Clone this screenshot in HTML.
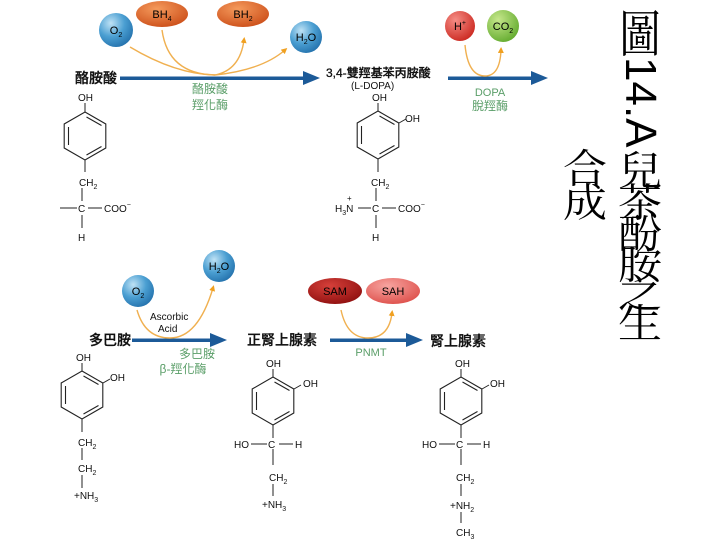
<!DOCTYPE html>
<html><head><meta charset="utf-8"><style>
body{margin:0;background:#fff;width:720px;height:540px;overflow:hidden;position:relative;font-family:"Liberation Sans","Noto Sans CJK TC",sans-serif}
.t{position:absolute;font-family:"Liberation Serif","Noto Serif CJK SC",serif;font-size:44px;line-height:1;color:#000;width:44px;text-align:center;transform-origin:center center}
</style></head><body>
<svg width="720" height="540" style="position:absolute;left:0;top:0" font-family="Liberation Sans, Noto Sans CJK TC, sans-serif">
<defs>
<radialGradient id="bl" cx="0.35" cy="0.3" r="0.8"><stop offset="0" stop-color="#bfe2f5"/><stop offset="0.5" stop-color="#4b9fd2"/><stop offset="1" stop-color="#1f6ca8"/></radialGradient>
<radialGradient id="or" cx="0.4" cy="0.3" r="0.8"><stop offset="0" stop-color="#f59a5c"/><stop offset="1" stop-color="#c94a15"/></radialGradient>
<radialGradient id="rd" cx="0.35" cy="0.3" r="0.8"><stop offset="0" stop-color="#f58d85"/><stop offset="1" stop-color="#c9231b"/></radialGradient>
<radialGradient id="gr" cx="0.35" cy="0.3" r="0.8"><stop offset="0" stop-color="#c6e78b"/><stop offset="1" stop-color="#5ea82a"/></radialGradient>
<radialGradient id="dr" cx="0.4" cy="0.3" r="0.8"><stop offset="0" stop-color="#d6403a"/><stop offset="1" stop-color="#8a0c0c"/></radialGradient>
<radialGradient id="lr" cx="0.4" cy="0.3" r="0.8"><stop offset="0" stop-color="#f7a4a0"/><stop offset="1" stop-color="#dc4a45"/></radialGradient>
<marker id="ah" markerWidth="6" markerHeight="6" refX="3" refY="3" orient="auto" markerUnits="userSpaceOnUse" viewBox="0 0 6 6"><path d="M0,0L6,3L0,6z" fill="#f0a020"/></marker>
<g id="ring" fill="none" stroke="#222" stroke-width="1.1">
<path d="M0,-24L20.8,-12L20.8,12L0,24L-20.8,12L-20.8,-12Z"/>
<path d="M1.5,-19L16.5,-10.5M16.5,10.5L1.5,19M-16.5,-9L-16.5,9"/>
</g>
</defs>

<g fill="#1c5a98">
<rect x="120" y="76.5" width="185" height="3.5"/><path d="M303,71L320,78L303,85z"/>
<rect x="448" y="76.5" width="85" height="3.5"/><path d="M531,71L548,78L531,85z"/>
<rect x="132" y="338.5" width="80" height="3.5"/><path d="M210,333L227,340L210,347z"/>
<rect x="330" y="338.5" width="78" height="3.5"/><path d="M406,333L423,340L406,347z"/>
</g>

<g fill="none" stroke="#f0b050" stroke-width="1.4">
<path d="M130,47Q175,74 215,75"/>
<path d="M162,30Q168,74 215,75"/>
<path d="M215,75Q240,70 244,40" marker-end="url(#ah)"/>
<path d="M215,75Q262,70 285,50" marker-end="url(#ah)"/>
<path d="M465,45Q468,76 485,76Q500,76 501,50" marker-end="url(#ah)"/>
<path d="M137,310Q145,338 170,338Q198,338 213,288" marker-end="url(#ah)"/>
<path d="M341,310Q347,338 368,338Q389,338 392,313" marker-end="url(#ah)"/>
</g>

<circle cx="116" cy="30" r="17" fill="url(#bl)"/><text x="116" y="34" font-size="11" text-anchor="middle">O<tspan font-size="7" dy="3">2</tspan></text>
<ellipse cx="162" cy="14" rx="26" ry="13" fill="url(#or)"/><text x="162" y="18" font-size="11" text-anchor="middle">BH<tspan font-size="7" dy="3">4</tspan></text>
<ellipse cx="243" cy="14" rx="26" ry="13" fill="url(#or)"/><text x="243" y="18" font-size="11" text-anchor="middle">BH<tspan font-size="7" dy="3">2</tspan></text>
<circle cx="306" cy="37" r="16" fill="url(#bl)"/><text x="306" y="41" font-size="11" text-anchor="middle">H<tspan font-size="7" dy="3">2</tspan><tspan dy="-3">O</tspan></text>
<circle cx="460" cy="26" r="15" fill="url(#rd)"/><text x="460" y="30" font-size="11" text-anchor="middle">H<tspan font-size="7" dy="-5">+</tspan></text>
<circle cx="503" cy="26" r="16" fill="url(#gr)"/><text x="503" y="30" font-size="11" text-anchor="middle">CO<tspan font-size="7" dy="3">2</tspan></text>
<circle cx="138" cy="291" r="16" fill="url(#bl)"/><text x="138" y="295" font-size="11" text-anchor="middle">O<tspan font-size="7" dy="3">2</tspan></text>
<circle cx="219" cy="266" r="16" fill="url(#bl)"/><text x="219" y="270" font-size="11" text-anchor="middle">H<tspan font-size="7" dy="3">2</tspan><tspan dy="-3">O</tspan></text>
<ellipse cx="335" cy="291" rx="27" ry="13" fill="url(#dr)"/><text x="335" y="295" font-size="11" text-anchor="middle">SAM</text>
<ellipse cx="393" cy="291" rx="27" ry="13" fill="url(#lr)"/><text x="393" y="295" font-size="11" text-anchor="middle">SAH</text>

<g font-size="14" fill="#111" font-weight="500" stroke="#111" stroke-width="0.3">
<text x="75" y="83">酪胺酸</text>
<text x="326" y="77" font-size="12">3,4-雙羥基苯丙胺酸</text>
<text x="89" y="345">多巴胺</text>
<text x="247" y="345">正腎上腺素</text>
<text x="430" y="346">腎上腺素</text>
</g>
<text x="351" y="89" font-size="10" fill="#111">(L-DOPA)</text>
<g font-size="12" fill="#5a9e68" text-anchor="middle">
<text x="210" y="93">酪胺酸</text><text x="210" y="109">羥化酶</text>
<text x="490" y="96" font-size="11">DOPA</text><text x="490" y="110">脫羥酶</text>
<text x="197" y="358">多巴胺</text><text x="183" y="373">β-羥化酶</text>
<text x="371" y="356" font-size="11">PNMT</text>
</g>
<text x="150" y="320" font-size="10" fill="#111">Ascorbic</text>
<text x="158" y="332" font-size="10" fill="#111">Acid</text>

<g font-size="10" fill="#111" stroke="none">
<text x="78" y="101">OH</text>
<use href="#ring" x="85" y="136"/>
<path d="M85,103V112M85,160V172M82,188V201M82,215V228M60,208H77M88,208H102" stroke="#222" stroke-width="1"/>
<text x="79" y="186">CH<tspan font-size="7" dy="3">2</tspan></text>
<text x="78" y="212">C</text>
<text x="104" y="212">COO<tspan font-size="7" dy="-5">−</tspan></text>
<text x="78" y="241">H</text>
<text x="372" y="101">OH</text>
<text x="405" y="122">OH</text>
<use href="#ring" x="378" y="135"/>
<path d="M378,103V111M399,123L406,119M378,159V172M376,188V201M376,215V228M358,208H371M382,208H396" stroke="#222" stroke-width="1"/>
<text x="371" y="186">CH<tspan font-size="7" dy="3">2</tspan></text>
<text x="335" y="212">H<tspan font-size="7" dy="3">3</tspan><tspan dy="-3">N</tspan></text>
<text x="347" y="201" font-size="8">+</text>
<text x="372" y="212">C</text>
<text x="398" y="212">COO<tspan font-size="7" dy="-5">−</tspan></text>
<text x="372" y="241">H</text>
<text x="76" y="361">OH</text>
<text x="110" y="381">OH</text>
<use href="#ring" x="82" y="395"/>
<path d="M82,363V371M103,383L110,379M82,419V432M82,448V460M82,475V488" stroke="#222" stroke-width="1"/>
<text x="78" y="446">CH<tspan font-size="7" dy="3">2</tspan></text>
<text x="78" y="472">CH<tspan font-size="7" dy="3">2</tspan></text>
<text x="74" y="499">+NH<tspan font-size="7" dy="3">3</tspan></text>
<text x="266" y="367">OH</text>
<text x="303" y="387">OH</text>
<use href="#ring" x="273" y="401"/>
<path d="M273,369V377M294,389L301,385M273,425V438M273,449V465M251,444H267M279,444H293" stroke="#222" stroke-width="1"/>
<text x="234" y="448">HO</text>
<text x="268" y="448">C</text>
<text x="295" y="448">H</text>
<text x="269" y="481">CH<tspan font-size="7" dy="3">2</tspan></text>
<path d="M273,484V496" stroke="#222"/>
<text x="262" y="508">+NH<tspan font-size="7" dy="3">3</tspan></text>
<text x="455" y="367">OH</text>
<text x="490" y="387">OH</text>
<use href="#ring" x="461" y="401"/>
<path d="M461,369V377M482,389L489,385M461,425V438M461,449V465M439,444H455M467,444H481M461,484V496M461,512V523" stroke="#222" stroke-width="1"/>
<text x="422" y="448">HO</text>
<text x="456" y="448">C</text>
<text x="483" y="448">H</text>
<text x="456" y="481">CH<tspan font-size="7" dy="3">2</tspan></text>
<text x="450" y="509">+NH<tspan font-size="7" dy="3">2</tspan></text>
<text x="456" y="536">CH<tspan font-size="7" dy="3">3</tspan></text>
</g>
</svg>

<div class="t" style="left:618px;top:14px;transform:scale(0.95,1.15)">圖</div>
<div style="position:absolute;left:599px;top:76px;width:82px;font:44px 'Liberation Sans',sans-serif;line-height:1;transform:rotate(90deg);text-align:center">14.A</div>
<div class="t" style="left:618px;top:150px;transform:scaleY(0.9)">兒</div>
<div class="t" style="left:618px;top:182px;transform:scaleY(0.9)">茶</div>
<div class="t" style="left:618px;top:213px;transform:scaleY(0.9)">酚</div>
<div class="t" style="left:618px;top:244px;transform:scaleY(0.9)">胺</div>
<div class="t" style="left:618px;top:273px;transform:scaleY(0.9)">之</div>
<div class="t" style="left:618px;top:303px;transform:scaleY(0.9)">生</div>
<div class="t" style="left:563px;top:148px;transform:scaleY(0.9)">合</div>
<div class="t" style="left:563px;top:182px;transform:scaleY(0.9)">成</div>
</body></html>
